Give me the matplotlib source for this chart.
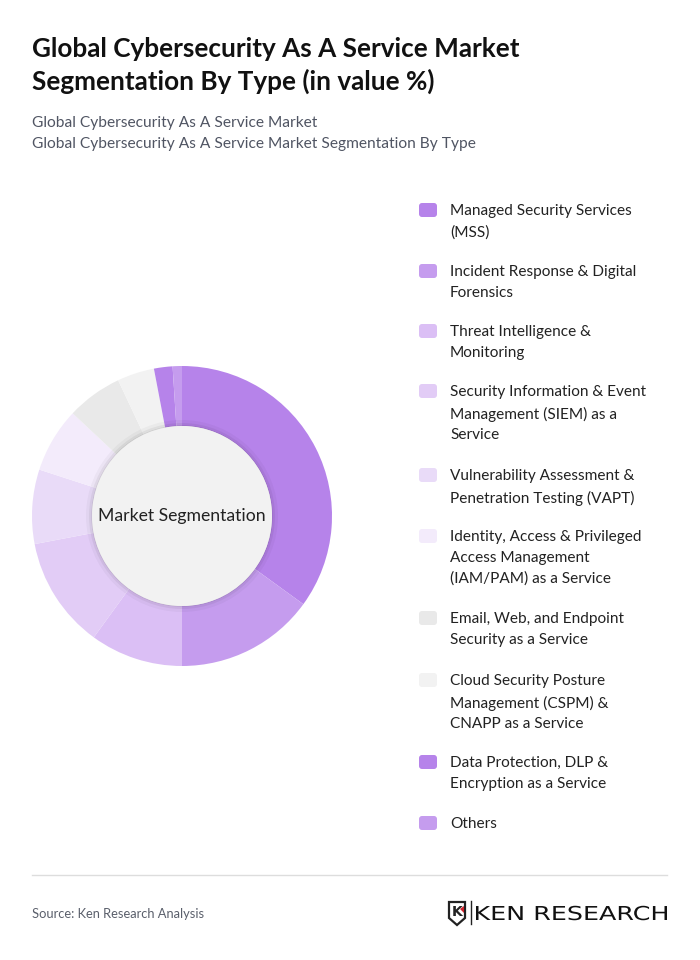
import matplotlib.pyplot as plt
from matplotlib.patches import FancyBboxPatch, Circle, Polygon, PathPatch
from matplotlib.textpath import TextPath
from matplotlib.font_manager import FontProperties
from matplotlib.transforms import Affine2D

plt.rcParams['font.family'] = ['Lato', 'DejaVu Sans']

# Segment data (value %)
segments = ['Managed Security Services\n(MSS)',
            'Incident Response & Digital\nForensics',
            'Threat Intelligence &\nMonitoring',
            'Security Information & Event\nManagement (SIEM) as a\nService',
            'Vulnerability Assessment &\nPenetration Testing (VAPT)',
            'Identity, Access & Privileged\nAccess Management\n(IAM/PAM) as a Service',
            'Email, Web, and Endpoint\nSecurity as a Service',
            'Cloud Security Posture\nManagement (CSPM) &\nCNAPP as a Service',
            'Data Protection, DLP &\nEncryption as a Service',
            'Others']
shares = [35, 15, 10, 12, 8, 7, 6, 4, 2, 1]
colors = ['#b683ea', '#c59cee', '#dbbff5', '#e2ccf6', '#e9dbf8',
          '#f3ebfb', '#e9e9e9', '#f2f2f2', '#b683ea', '#c59cee']
legend_y = [210, 271, 331, 391, 475, 536, 618, 680, 762, 823]

W, H = 700, 960
fig = plt.figure(figsize=(W / 100, H / 100), dpi=100)
fig.patch.set_facecolor('white')

# overlay in pixel coordinates
ax = fig.add_axes([0, 0, 1, 1])
ax.set_xlim(0, W)
ax.set_ylim(H, 0)
ax.axis('off')

ax.text(32, 49, 'Global Cybersecurity As A Service Market', fontsize=18.8,
        fontweight='bold', color='#111111', va='center')
ax.text(32, 81, 'Segmentation By Type (in value %)', fontsize=18.8,
        fontweight='bold', color='#111111', va='center')
ax.text(32, 123, 'Global Cybersecurity As A Service Market', fontsize=11.2,
        color='#505563', va='center')
ax.text(32, 144, 'Global Cybersecurity As A Service Market Segmentation By Type',
        fontsize=11.2, color='#505563', va='center')

# legend
for lab, col, y in zip(segments, colors, legend_y):
    ax.add_patch(FancyBboxPatch((419, y - 7), 18, 14,
                                boxstyle='round,pad=0,rounding_size=3',
                                fc=col, ec='none'))
    ax.text(450, y - 6, lab, fontsize=11.1, color='#222222', va='top',
            linespacing=1.62)

# footer
ax.plot([32, 667], [875, 875], color='#dddddd', lw=1)
ax.text(32, 914, 'Source: Ken Research Analysis', fontsize=9.3,
        color='#5a5f6b', va='center')
# logo
ax.add_patch(Polygon([(449, 902), (465, 902), (465, 918), (457, 925), (449, 918)],
                     closed=True, fc='white', ec='#222222', lw=1.6))
ax.text(457, 912, 'K', fontsize=10, fontweight='bold', color='#222222',
        ha='center', va='center', family='DejaVu Sans')
ax.add_patch(Polygon([(460, 909), (464, 906), (464, 913)], closed=True,
                     fc='#d0202a', ec='none'))
ax.plot([471, 471], [901, 924], color='#222222', lw=1)
tp = TextPath((0, 0), 'KEN RESEARCH', size=1, prop=FontProperties(family='DejaVu Sans'))
ext = tp.get_extents()
sx = 191 / ext.width
sy = 14 / 0.73
tr = Affine2D().translate(-ext.x0, 0).scale(sx, -sy).translate(476, 920) + ax.transData
ax.add_patch(PathPatch(tp, fc='#111111', ec='none', transform=tr))

# donut
pax = fig.add_axes([32 / W, 1 - 666 / H, 300 / W, 300 / H])
pax.pie(shares, colors=colors, startangle=90, counterclock=False,
        radius=1, wedgeprops=dict(width=0.4, edgecolor='none'))
for r, a in [(0.64, 0.03), (0.62, 0.05), (0.605, 0.07)]:
    pax.add_patch(Circle((0, 0), r, fc='#000000', alpha=a, ec='none'))
pax.add_patch(Circle((0, 0), 0.6, fc='#f2f2f2', ec='none'))
pax.text(0, 0, 'Market Segmentation', fontsize=12.7, color='#222222',
         ha='center', va='center')
pax.set_xlim(-1, 1)
pax.set_ylim(-1, 1)
pax.set_aspect('equal')
pax.axis('off')

fig.savefig('out.png', dpi=100)
